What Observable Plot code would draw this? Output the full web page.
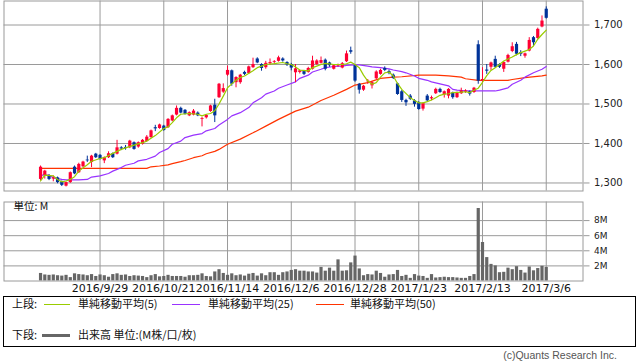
<!DOCTYPE html>
<html>
<head>
<meta charset="utf-8">
<script src="https://cdn.jsdelivr.net/npm/d3@7"></script>
<script src="https://cdn.jsdelivr.net/npm/@observablehq/plot@0.6"></script>
<style>
  body { margin: 0; background: #fff; }
  #root { position: relative; width: 638px; height: 362px; background: #fff; overflow: hidden; }
  #root svg { position: absolute; left: 0; }
  .lg { position: absolute; font-family: "Noto Sans CJK JP", sans-serif; font-size: 11px; line-height: 13px; color: #111; white-space: nowrap; }
  .ln { position: absolute; height: 1px; }
</style>
</head>
<body>
<div id="root"></div>
<script>
// ---- data (trading-day index 0..119) ----
const open = [
1309,1319,1318,1310,1313,1303,1292,1301,1340,1326,
1341,1358,1352,1373,1370,1356,1364,1374,1373,1389,
1390,1389,1402,1391,1398,1405,1415,1440,1438,1444,
1440,1457,1472,1489,1484,1470,1472,1477,1461,1465,
1481,1497,1516,1530,1573,1584,1554,1554,1580,1577,
1592,1614,1600,1592,1602,1605,1608,1614,1605,1600,
1579,1580,1582,1580,1588,1600,1603,1611,1604,1588,
1596,1591,1607,1635,1597,1550,1535,1556,1546,1564,
1575,1590,1582,1573,1551,1531,1509,1520,1508,1503,
1487,1520,1513,1526,1537,1523,1520,1528,1516,1526,
1530,1531,1529,1650,1558,1586,1593,1613,1600,1588,
1606,1633,1651,1630,1621,1634,1668,1666,1695,1740];
const high = [
1343,1332,1321,1318,1315,1305,1302,1328,1343,1350,
1355,1368,1370,1375,1372,1366,1379,1376,1408,1392,
1395,1408,1404,1404,1410,1420,1434,1446,1449,1446,
1463,1472,1495,1492,1486,1480,1486,1480,1466,1473,
1497,1512,1552,1551,1596,1586,1569,1575,1583,1596,
1616,1617,1602,1608,1614,1610,1621,1617,1607,1603,
1600,1586,1585,1593,1621,1612,1619,1614,1606,1600,
1601,1605,1634,1644,1599,1552,1547,1562,1556,1584,
1588,1594,1586,1576,1553,1534,1512,1524,1511,1506,
1503,1524,1520,1540,1540,1533,1539,1530,1530,1540,
1536,1533,1542,1660,1592,1600,1606,1621,1602,1607,
1626,1655,1656,1635,1629,1668,1671,1692,1723,1746];
const low = [
1305,1310,1306,1303,1298,1291,1290,1299,1321,1324,
1338,1352,1339,1362,1358,1349,1362,1362,1371,1382,
1383,1387,1383,1388,1396,1403,1413,1430,1436,1431,
1438,1455,1470,1475,1472,1468,1470,1468,1442,1462,
1479,1453,1514,1527,1570,1545,1541,1550,1572,1575,
1590,1602,1583,1588,1598,1601,1606,1606,1595,1584,
1554,1576,1572,1578,1586,1598,1601,1584,1593,1586,
1593,1589,1605,1626,1555,1525,1532,1550,1538,1562,
1573,1582,1574,1562,1522,1504,1494,1509,1492,1484,
1482,1505,1508,1524,1527,1515,1513,1512,1514,1524,
1527,1520,1527,1550,1554,1575,1585,1590,1590,1580,
1604,1630,1622,1620,1616,1632,1645,1664,1693,1715];
const close = [
1340,1330,1309,1313,1301,1294,1301,1326,1323,1347,
1353,1356,1368,1364,1360,1364,1374,1364,1389,1386,
1387,1406,1385,1402,1408,1416,1432,1437,1447,1433,
1461,1470,1489,1477,1474,1478,1482,1470,1463,1471,
1495,1470,1550,1539,1585,1550,1567,1573,1575,1594,
1600,1604,1590,1603,1605,1607,1617,1609,1599,1591,
1589,1584,1575,1590,1609,1609,1610,1588,1597,1597,
1599,1602,1627,1631,1558,1535,1545,1558,1554,1581,
1585,1585,1577,1565,1524,1509,1503,1512,1499,1486,
1501,1508,1516,1537,1529,1531,1537,1516,1528,1533,
1533,1525,1540,1558,1562,1583,1604,1593,1593,1605,
1623,1645,1626,1626,1627,1661,1655,1689,1710,1717];
// volume, millions
const volume = [
1.0,0.8,0.75,0.8,0.7,0.65,0.75,0.45,0.95,0.85,
0.8,0.7,0.85,0.6,0.8,0.7,0.5,0.85,0.95,0.75,
0.8,0.6,0.7,0.65,0.6,0.45,0.7,0.85,0.55,0.6,
0.75,0.6,0.6,0.6,0.5,0.7,0.7,0.75,0.95,0.6,
0.55,1.2,1.5,1.0,0.75,0.95,0.7,0.8,0.65,0.9,
1.0,0.65,0.95,0.7,1.1,1.1,0.75,1.1,1.2,1.4,
1.5,1.3,1.3,1.2,1.2,1.05,1.8,1.3,1.7,1.3,
2.8,1.3,1.35,2.4,3.3,1.6,0.7,0.85,0.8,1.3,
1.0,0.5,0.8,0.85,1.4,0.6,0.75,0.35,0.85,0.65,
0.6,0.35,0.85,0.4,0.45,0.5,0.45,0.45,0.4,0.35,
0.35,0.6,0.85,9.6,5.1,3.1,2.2,2.0,1.1,1.15,
1.7,1.5,1.9,1.4,1.05,1.85,1.35,1.65,1.95,1.8];
// moving averages: [day index, value]
const ma5 = [[0,1305],[1,1320],[3,1318],[4,1309],[5,1303],[6,1305],[7,1309],[8,1316],[9,1330],[11,1346],[12,1355],[14,1362],[15,1364],[17,1375],[19,1385],[20,1389],[22,1396],[24,1402],[25,1406],[26,1413],[27,1420],[29,1438],[30,1442],[31,1453],[32,1465],[33,1474],[35,1476],[37,1474],[38,1470],[39,1474],[40,1476],[41,1483],[42,1500],[43,1520],[44,1541],[45,1551],[46,1560],[47,1567],[48,1571],[50,1584],[51,1592],[52,1596],[53,1600],[55,1602],[57,1605],[58,1602],[59,1600],[60,1594],[61,1586],[63,1584],[64,1592],[65,1596],[66,1600],[67,1603],[69,1600],[71,1600],[72,1602],[73,1606],[74,1600],[75,1592],[76,1573],[77,1558],[78,1550],[79,1554],[80,1568],[81,1579],[82,1581],[83,1571],[84,1552],[85,1537],[87,1516],[88,1509],[89,1503],[90,1503],[91,1506],[92,1510],[93,1516],[94,1522],[95,1525],[96,1526],[97,1529],[99,1530],[100,1531],[101,1529],[102,1535],[103,1540],[104,1555],[105,1572],[106,1585],[107,1592],[108,1600],[109,1609],[110,1614],[111,1619],[112,1625],[113,1630],[114,1634],[115,1638],[116,1647],[117,1664],[118,1676],[119,1687]];
const ma25 = [[0,1320],[2,1320],[3,1313],[5,1309],[6,1308],[9,1308],[11,1309],[12,1315],[14,1318],[16,1324],[17,1330],[19,1339],[20,1345],[22,1350],[23,1356],[25,1360],[27,1368],[28,1377],[30,1387],[31,1398],[33,1406],[34,1415],[36,1421],[38,1425],[39,1432],[41,1438],[42,1447],[44,1461],[45,1470],[47,1478],[49,1491],[50,1503],[52,1516],[53,1525],[55,1533],[56,1540],[58,1548],[60,1556],[61,1565],[63,1573],[64,1581],[66,1588],[67,1592],[69,1595],[71,1596],[72,1598],[74,1599],[75,1599],[77,1596],[78,1594],[80,1592],[82,1589],[83,1586],[85,1582],[86,1579],[88,1571],[89,1565],[91,1560],[92,1556],[94,1551],[96,1546],[97,1537],[98,1535],[100,1533],[104,1533],[107,1533],[108,1535],[110,1541],[111,1550],[113,1560],[114,1568],[116,1579],[118,1588],[119,1595]];
const ma50 = [[0,1337],[25,1337],[26,1341],[28,1343],[30,1346],[31,1349],[33,1354],[34,1357],[36,1364],[38,1369],[39,1374],[41,1380],[42,1385],[44,1398],[47,1411],[50,1427],[53,1444],[56,1461],[60,1482],[63,1492],[66,1509],[69,1522],[72,1537],[74,1548],[77,1554],[80,1565],[83,1568],[85,1569],[89,1573],[93,1573],[96,1571],[99,1568],[100,1564],[103,1560],[110,1560],[111,1562],[114,1567],[118,1571],[119,1573]];
// axis labels
const dateTickDays = [14, 29, 44, 59, 74, 89, 104, 119];
const dateLabels = ["2016/9/29","2016/10/21","2016/11/14","2016/12/6","2016/12/28","2017/1/23","2017/2/13","2017/3/6"];
const priceTicks = [1300, 1400, 1500, 1600, 1700];
const volTicks = [2, 4, 6, 8];

// ---- styles ----
const UP = "#ff0033", DOWN = "#003399", GRID = "#9a9a9a";
const C5 = "#99cc00", C25 = "#9933ff", C50 = "#ff3300", VOLC = "#666666";
const xDomain = [-8.6, 127.65];

const candles = open.map((o, i) => ({i, o, h: high[i], l: low[i], c: close[i]}));
const ups = candles.filter(d => d.c >= d.o), downs = candles.filter(d => d.c < d.o);
const vols = volume.map((v, i) => ({i, v}));

const root = document.getElementById("root");

const price = Plot.plot({
  width: 638, height: 191,
  marginLeft: 3.5, marginRight: 55.5, marginTop: 0.5, marginBottom: 0.5,
  style: {fontFamily: "DejaVu Sans", fontSize: "10px", background: "transparent", overflow: "visible"},
  x: {domain: xDomain, axis: null},
  y: {domain: [1279.7, 1760.8], axis: null},
  marks: [
    Plot.ruleY(priceTicks, {stroke: GRID}),
    Plot.ruleX(dateTickDays, {stroke: GRID}),
    Plot.line(ma50, {x: d => d[0], y: d => d[1], stroke: C50, strokeWidth: 1.2}),
    Plot.line(ma25, {x: d => d[0], y: d => d[1], stroke: C25, strokeWidth: 1.2}),
    Plot.ruleX(ups, {x: "i", y1: "l", y2: "h", stroke: UP, strokeWidth: 1}),
    Plot.ruleX(downs, {x: "i", y1: "l", y2: "h", stroke: DOWN, strokeWidth: 1}),
    Plot.ruleX(ups, {x: "i", y1: "o", y2: "c", stroke: UP, strokeWidth: 3.2}),
    Plot.ruleX(downs, {x: "i", y1: "o", y2: "c", stroke: DOWN, strokeWidth: 3.2}),
    Plot.line(ma5, {x: d => d[0], y: d => d[1], stroke: C5, strokeWidth: 1.2}),
    Plot.frame({stroke: GRID}),
    Plot.axisY({anchor: "right", ticks: priceTicks, tickFormat: d3.format(","), tickSize: 6, tickPadding: 5,
                stroke: GRID, fill: "#222", fontSize: 10, label: null})
  ]
});
price.style.top = "0px";
root.appendChild(price);

const vol = Plot.plot({
  width: 638, height: 105,
  marginLeft: 3.5, marginRight: 55.5, marginTop: 10.5, marginBottom: 15.5,
  style: {fontFamily: "DejaVu Sans", fontSize: "10px", background: "transparent", overflow: "visible"},
  x: {domain: xDomain, axis: null},
  y: {domain: [0, 10.46], axis: null},
  marks: [
    Plot.ruleY(volTicks, {stroke: GRID}),
    Plot.ruleX(dateTickDays, {stroke: GRID}),
    Plot.ruleX(vols, {x: "i", y1: 0, y2: "v", stroke: VOLC, strokeWidth: 3.2}),
    Plot.frame({stroke: GRID}),
    Plot.axisY({anchor: "right", ticks: volTicks, tickFormat: d => d + "M", tickSize: 6, tickPadding: 5,
                stroke: GRID, fill: "#222", fontSize: 9, label: null}),
    Plot.axisX({anchor: "bottom", ticks: dateTickDays, tickFormat: d => dateLabels[dateTickDays.indexOf(d)],
                tickSize: 0, tickPadding: 3, fill: "#111", fontSize: 11, label: null}),
    Plot.text(["単位: M"], {frameAnchor: "top-left", dx: 9.5, dy: 1, fill: "#111", fontSize: 10.5,
                fontFamily: "Noto Sans CJK JP"})
  ]
});
vol.style.top = "191px";
root.appendChild(vol);

// ---- legend box ----
const box = document.createElement("div");
box.style.cssText = "position:absolute;left:3px;top:296px;width:631px;height:49px;border:1px solid #000;";
root.appendChild(box);
function label(text, left, cy) {
  const d = document.createElement("div");
  d.className = "lg"; d.textContent = text;
  d.style.left = left + "px"; d.style.top = (cy - 7) + "px";
  root.appendChild(d);
}
function swatch(color, left, width, cy, h) {
  const d = document.createElement("div");
  d.className = "ln";
  d.style.cssText += `left:${left}px;width:${width}px;top:${cy - Math.floor(h/2)}px;height:${h}px;background:${color};`;
  root.appendChild(d);
}
const row1 = 304, row2 = 335;
label("上段:", 12, row1);
swatch(C5, 44, 26, row1, 1); label("単純移動平均(5)", 78, row1);
swatch(C25, 172, 28, row1, 1); label("単純移動平均(25)", 208, row1);
swatch(C50, 316, 28, row1, 1); label("単純移動平均(50)", 350, row1);
label("下段:", 12, row2);
swatch(VOLC, 42, 28, row2, 3); label("出来高 単位:(M株/口/枚)", 78, row2);

const cp = document.createElement("div");
cp.textContent = "(c)Quants Research Inc.";
cp.style.cssText = "position:absolute;right:21px;top:349px;font-family:'Liberation Sans',sans-serif;font-size:10.5px;line-height:13px;color:#555;white-space:nowrap;";
root.appendChild(cp);
</script>
</body>
</html>
